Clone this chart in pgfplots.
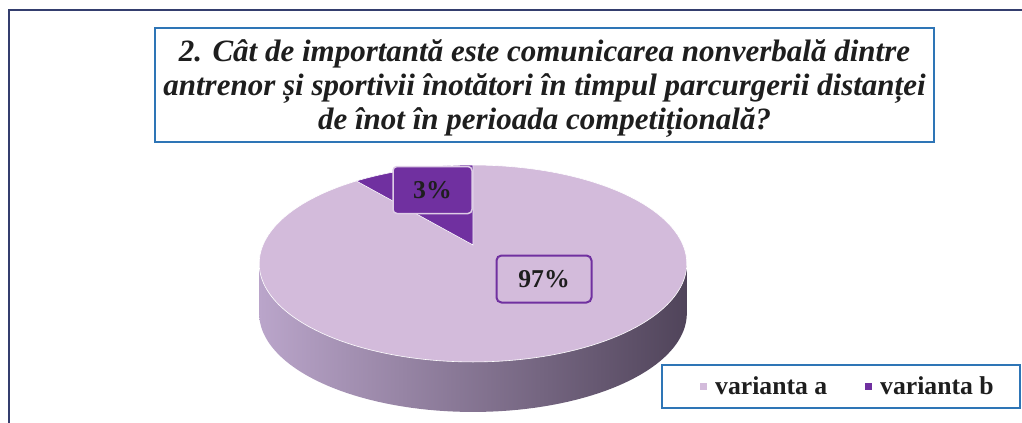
\documentclass[border=0pt]{standalone}
\usepackage{pgfplots}
\pgfplotsset{compat=1.18}
\usepackage{pgfplotstable}
\usepackage{fontspec}
\setmainfont{Liberation Serif}
\definecolor{lavA}{RGB}{211,187,219}
\definecolor{purB}{RGB}{112,48,160}
\definecolor{boxblue}{RGB}{46,117,182}
\definecolor{frameblue}{RGB}{52,62,110}
\definecolor{sideL}{RGB}{186,165,202}
\definecolor{sideM}{RGB}{128,110,142}
\definecolor{sideR}{RGB}{80,68,90}
\definecolor{txt}{RGB}{30,30,30}
\definecolor{lblborder}{RGB}{222,205,230}

% shares shown in the data labels
\pgfplotstableread{
name value
a 97
b 3
}\shares
\pgfplotstablegetelem{0}{value}\of\shares \let\valA\pgfplotsretval
\pgfplotstablegetelem{1}{value}\of\shares \let\valB\pgfplotsretval

% geometry of the 3-D pie read from the picture (pixel units, y downward)
\def\cx{473}      % vertex x
\def\cy{245}      % vertex y
\def\gx{210}      % horizontal radius factor
\def\qy{95}       % vertical radius factor
\def\pp{0.1877}   % perspective factor
\def\depth{50}    % thickness of the pie
\def\sweepB{39.5} % sweep of the dark slice as drawn in the picture (degrees)

\begin{document}
\begin{tikzpicture}
\useasboundingbox (0,0) rectangle (1022bp,423bp);
\begin{axis}[
  scale only axis, width=1022bp, height=423bp,
  xmin=0, xmax=1022, ymin=0, ymax=423, y dir=reverse,
  hide axis, clip=false,
  legend columns=2,
  legend image code/.code={\fill[#1, draw=none] (0bp,-3.5bp) rectangle (7bp,3.5bp);},
  legend style={at={(0.6849,0.0863)}, anchor=west,
    draw=none, fill=none,
    font=\fontsize{25.7bp}{28bp}\selectfont\bfseries, text=txt,
    inner xsep=0bp, inner ysep=0bp,
    /tikz/every odd column/.append style={column sep=6bp},
    /tikz/every even column/.append style={column sep=36bp}},
]
% outer frame
\draw[frameblue, line width=1.6bp] (9,430) -- (9,10) -- (1030,10);

% side of the pie: bottom ellipse + band, shaded left to right
\addplot[forget plot, draw=none, left color=sideL, middle color=sideM, right color=sideR,
  domain=0:360, samples=181, variable=\t]
  ({\cx - \gx*sin(\t)/(1+\pp*cos(\t))}, {\cy + \depth - \qy*cos(\t)/(1+\pp*cos(\t))}) -- cycle;
\addplot[forget plot, draw=none, left color=sideL, middle color=sideM, right color=sideR]
  coordinates {(259.2,263.5) (686.8,263.5) (686.8,313.5) (259.2,313.5)} -- cycle;

% top face: slice a (whole ellipse) and slice b (wedge)
\addplot[forget plot, fill=lavA, draw=white, line width=0.6bp,
  domain=0:360, samples=181, variable=\t]
  ({\cx - \gx*sin(\t)/(1+\pp*cos(\t))}, {\cy - \qy*cos(\t)/(1+\pp*cos(\t))}) -- cycle;
\addplot[forget plot, fill=purB, draw=white, line width=0.6bp,
  domain=0:\sweepB, samples=40, variable=\t]
  ({\cx - \gx*sin(\t)/(1+\pp*cos(\t))}, {\cy - \qy*cos(\t)/(1+\pp*cos(\t))}) -- (\cx,\cy) -- cycle;

% data labels
\node[draw=lblborder, line width=1.5bp, fill=purB, rounded corners=4bp,
  minimum width=79bp, minimum height=47bp, inner sep=0pt, text=txt,
  font=\fontsize{25.7bp}{28bp}\selectfont\bfseries] at (432.5,190) {\valB\%};
\node[draw=purB, line width=2bp, fill=lavA, rounded corners=5bp,
  minimum width=95bp, minimum height=47bp, inner sep=0pt, text=txt,
  font=\fontsize{25.7bp}{28bp}\selectfont\bfseries] at (544,279) {\valA\%};

% title
\draw[boxblue, line width=1.8bp, fill=white] (155,28) rectangle (934,142);
\node[inner sep=0pt, align=center, text=txt,
  font=\fontsize{31bp}{34bp}\selectfont\bfseries\itshape] at (544.5,89)
  {2. Cât de importantă este comunicarea nonverbală dintre\\
   antrenor și sportivii înotători în timpul parcurgerii distanței\\
   de înot în perioada competițională?};

% legend frame
\draw[boxblue, line width=1.8bp, fill=white] (662,365) rectangle (1020,408);

\addlegendimage{fill=lavA}
\addlegendentry{varianta a}
\addlegendimage{fill=purB}
\addlegendentry{varianta b}
\end{axis}
\end{tikzpicture}
\end{document}
